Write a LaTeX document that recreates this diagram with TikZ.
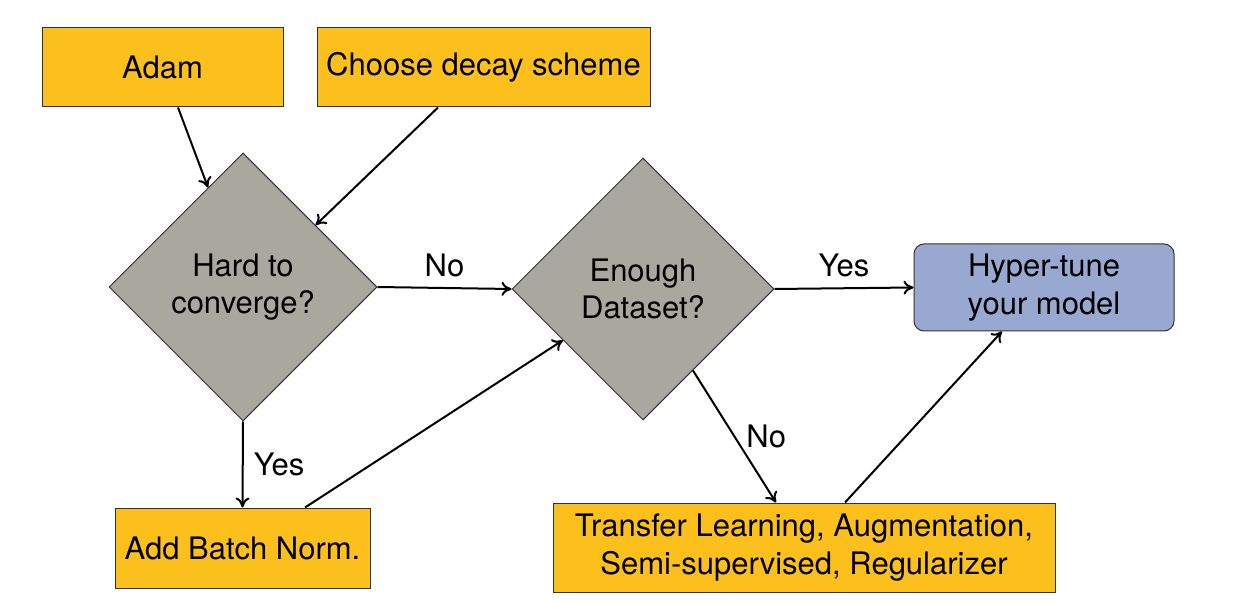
\documentclass[tikz,border=0pt]{standalone}
\usepackage{fontspec}
\setmainfont{TeX Gyre Heros}
\usetikzlibrary{shapes.geometric,arrows.meta,calc}
\definecolor{boxorange}{RGB}{252,192,28}
\definecolor{diagray}{RGB}{168,168,158}
\definecolor{boxblue}{RGB}{152,168,208}
\definecolor{edgegray}{RGB}{50,50,50}
\begin{document}
\begin{tikzpicture}[x=0.5pt,y=-0.5pt,
  every node/.style={font=\fontsize{15.5}{18.8}\selectfont, align=center},
  obox/.style={draw=edgegray, line width=0.5pt, fill=boxorange, inner sep=0pt},
  dia/.style={diamond, draw=edgegray, line width=0.5pt, fill=diagray, inner sep=0pt},
  bbox/.style={draw=edgegray, line width=0.5pt, fill=boxblue, rounded corners=5pt, inner sep=0pt},
  conn/.style={line width=1pt, -{To[length=5pt,width=7pt]}},
  lbl/.style={inner sep=2pt}]
\useasboundingbox (0,0) rectangle (1237,604);
\node[obox, minimum width=120.5pt, minimum height=39.5pt] (adam) at (162.5,67.5) {Adam};
\node[obox, minimum width=166.5pt, minimum height=39.5pt] (decay) at (483.5,67.5) {Choose decay scheme};
\node[dia, minimum width=134pt, minimum height=134pt] (d1) at (243,287) {Hard to\\converge?};
\node[dia, minimum width=131pt, minimum height=131pt] (d2) at (643,289) {Enough\\Dataset?};
\node[bbox, minimum width=130pt, minimum height=43.5pt] (hyper) at (1044,287.5) {Hyper-tune\\your model};
\node[obox, minimum width=127.5pt, minimum height=40pt] (bn) at (242.5,548) {Add Batch Norm.};
\node[obox, minimum width=251pt, minimum height=44.5pt] (tl) at (804,547.5) {Transfer Learning, Augmentation,\\Semi-supervised, Regularizer};

\draw[conn] ($(adam.south)+(15.5,0)$) -- ($(d1.north)!0.26!(d1.west)$);
\draw[conn] ($(decay.south)+(-45.5,0)$) -- ($(d1.north)!0.54!(d1.east)$);
\draw[conn] (d1.east) -- node[lbl, above=3pt] {No} (d2.west);
\draw[conn] (d1.south) -- node[lbl, right=3pt] {Yes} (bn.north);
\draw[conn] ($(bn.north)+(62.5,0)$) -- ($(d2.west)!0.39!(d2.south)$);
\draw[conn] (d2.east) -- node[lbl, above=3pt] {Yes} (hyper.west);
\draw[conn] ($(d2.south)!0.38!(d2.east)$) -- node[lbl, right=3.5pt] {No} ($(tl.north)+(-28,0)$);
\draw[conn] ($(tl.north)+(41,0)$) -- ($(hyper.south)+(-42,0)$);
\end{tikzpicture}
\end{document}
